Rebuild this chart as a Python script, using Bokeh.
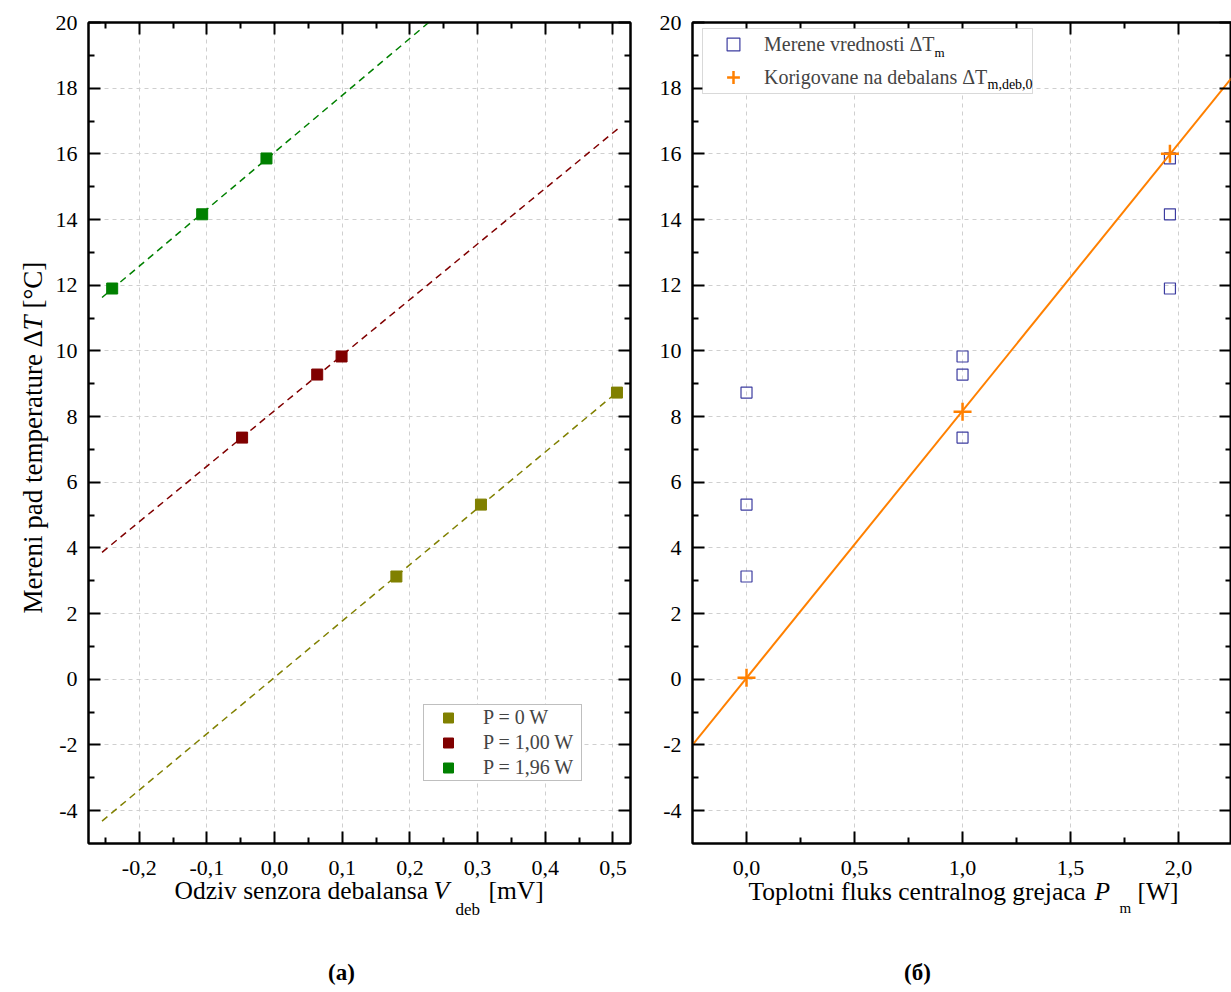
import math
import numpy as np
from bokeh.plotting import figure
from bokeh.layouts import row, column
from bokeh.models import (Range1d, LinearAxis, FixedTicker, CustomJSTickFormatter,
                          Label, Legend, LegendItem, BoxAnnotation)
from bokeh.embed import file_html
from bokeh.resources import INLINE

# ---------------- data ----------------
# (a) measured temperature drop vs. imbalance sensor response
V_P0 = [0.180, 0.305, 0.506]
T_P0 = [3.13, 5.32, 8.73]
V_P1 = [-0.048, 0.063, 0.099]
T_P1 = [7.36, 9.28, 9.83]
V_P2 = [-0.240, -0.107, -0.012]
T_P2 = [11.90, 14.16, 15.86]
FIT_V = [-0.255, 0.510]
LEG_A = ["P = 0 W", "P = 1,00 W", "P = 1,96 W"]

# (б) heater power, measured and corrected values
P_M = [0.0, 1.00, 1.96]
T_CORR = [0.05, 8.15, 16.00]
FIT_P = [-0.25, 2.245]
LEG_B = ["Merene vrednosti \u0394T", "Korigovane na debalans \u0394T"]

X1 = (-0.275, 0.526)
X2 = (-0.25, 2.245)
Y = (-5.0, 20.0)

X1_TICKS = [-0.2, -0.1, 0.0, 0.1, 0.2, 0.3, 0.4, 0.5]
X1_MINOR = [-0.25, -0.15, -0.05, 0.05, 0.15, 0.25, 0.35, 0.45]
X2_TICKS = [0.0, 0.5, 1.0, 1.5, 2.0]
X2_MINOR = [0.25, 0.75, 1.25, 1.75]
Y_TICKS = list(range(-4, 21, 2))
Y_MINOR = list(range(-3, 20, 2))

SERIF = "Liberation Serif"
OLIVE, DRED, GREEN = "#808000", "#800000", "#008000"
ORANGE, BLUE = "#ff8000", "#3c3ca0"

# page geometry (pixels)
W_Y = 50          # strip for the rotated y title
H_TOP = 880       # height of the plot figures
OVL = 16          # text strips overlap the plot figures by this much
F_TOP, F_BOT = 22, 843
F1_L, F1_R = 88, 630
F2_L, F2_R = 692, 1231
BASE_SHIFT = 0.39  # em offset between requested and drawn baseline


def dx2(px):
    return X2[0] + (px - F2_L) / (F2_R - F2_L) * (X2[1] - X2[0])


def dy(py):
    return Y[1] - (py - F_TOP) / (F_BOT - F_TOP) * (Y[1] - Y[0])


comma_fmt = CustomJSTickFormatter(code="return tick.toFixed(1).replace('.', ',');")
int_fmt = CustomJSTickFormatter(code="return tick.toFixed(0);")
blank_fmt = CustomJSTickFormatter(code="return '';")


def tick_style(ax):
    ax.axis_line_width = 2
    ax.major_tick_line_width = 2
    ax.minor_tick_line_width = 2
    ax.major_tick_in = 12
    ax.major_tick_out = 0
    ax.minor_tick_in = 6
    ax.minor_tick_out = 0


def style(p, xt, xm):
    p.background_fill_color = "white"
    p.border_fill_color = "white"
    p.outline_line_color = "black"
    p.outline_line_width = 2
    p.xaxis.ticker = FixedTicker(ticks=xt, minor_ticks=xm)
    p.yaxis.ticker = FixedTicker(ticks=Y_TICKS, minor_ticks=Y_MINOR)
    p.xaxis.formatter = comma_fmt
    p.yaxis.formatter = int_fmt
    for ax in p.xaxis + p.yaxis:
        tick_style(ax)
        ax.major_label_text_font = SERIF
        ax.major_label_text_font_size = "22px"
        ax.major_label_text_color = "black"
    p.xaxis.major_label_standoff = 17
    p.yaxis.major_label_standoff = 11
    for g in (p.xgrid, p.ygrid):
        g.grid_line_color = "#cfcfcf"
        g.grid_line_dash = "4 4"
        g.grid_line_width = 1
    p.xgrid.ticker = FixedTicker(ticks=xt)
    p.ygrid.ticker = FixedTicker(ticks=Y_TICKS)
    top = LinearAxis(ticker=FixedTicker(ticks=xt, minor_ticks=xm), formatter=blank_fmt)
    right = LinearAxis(ticker=FixedTicker(ticks=Y_TICKS, minor_ticks=Y_MINOR), formatter=blank_fmt)
    for ax in (top, right):
        tick_style(ax)
        ax.major_label_text_font_size = "0px"
        ax.major_label_standoff = 0
    p.add_layout(top, "above")
    p.add_layout(right, "right")


def lab(p, x, y, text, size, style_="normal", angle=0.0, align="left", level="annotation"):
    p.add_layout(Label(x=x, y=y, text=text, text_font=SERIF, text_font_size="%gpx" % size,
                       text_font_style=style_, text_baseline="alphabetic",
                       text_align=align, angle=angle, text_color="black", level=level))


def text_fig(x0, y0, w, h, margin=None):
    """Transparent blank figure whose data units are page pixels (y grows downward)."""
    t = figure(width=w, height=h, x_range=Range1d(x0, x0 + w), y_range=Range1d(y0 + h, y0),
               x_axis_type=None, y_axis_type=None, output_backend="svg",
               toolbar_location=None, min_border=0, frame_align=False)
    t.outline_line_color = None
    t.background_fill_alpha = 0
    t.border_fill_alpha = 0
    if margin is not None:
        t.margin = margin
    return t


def hlab(t, x, base, text, size, style_="normal", align="left"):
    lab(t, x, base - BASE_SHIFT * size, text, size, style_, align=align)


def vlab(t, base, y, text, size, style_="normal"):
    lab(t, base - BASE_SHIFT * size, y, text, size, style_, angle=math.pi / 2)


# ---------------- panel (a) ----------------
p1 = figure(width=640 - W_Y, height=H_TOP, x_range=Range1d(*X1), y_range=Range1d(*Y),
            output_backend="svg", toolbar_location=None, frame_align=False,
            min_border_left=F1_L - W_Y, min_border_right=640 - F1_R,
            min_border_top=F_TOP, min_border_bottom=H_TOP - F_BOT)
style(p1, X1_TICKS, X1_MINOR)

rs = []
for vx, ty, col in ((V_P0, T_P0, OLIVE), (V_P1, T_P1, DRED), (V_P2, T_P2, GREEN)):
    k, b = np.polyfit(vx, ty, 1)
    p1.line(FIT_V, [k * v + b for v in FIT_V], line_color=col, line_width=1.5, line_dash="7 5")
for vx, ty, col in ((V_P0, T_P0, OLIVE), (V_P1, T_P1, DRED), (V_P2, T_P2, GREEN)):
    rs.append(p1.scatter(vx, ty, marker="square", size=11, fill_color=col, line_color=col))

leg1 = Legend(items=[LegendItem(label=t, renderers=[r]) for t, r in zip(LEG_A, rs)],
              location=(423 - F1_L, F_BOT - 781))
leg1.label_text_font = SERIF
leg1.label_text_font_size = "20px"
leg1.border_line_color = "#808080"
leg1.border_line_width = 1
leg1.background_fill_alpha = 1
leg1.padding = 0
leg1.spacing = 0
leg1.margin = 0
leg1.glyph_width = 48
leg1.glyph_height = 25
leg1.label_standoff = 11
leg1.label_height = 25
leg1.label_width = 98
p1.add_layout(leg1)

# ---------------- panel (б) ----------------
p2 = figure(width=591, height=H_TOP, x_range=Range1d(*X2), y_range=Range1d(*Y),
            output_backend="svg", toolbar_location=None, frame_align=False,
            min_border_left=F2_L - 640, min_border_right=0,
            min_border_top=F_TOP, min_border_bottom=H_TOP - F_BOT)
style(p2, X2_TICKS, X2_MINOR)

sq_x = [P_M[0]] * len(T_P0) + [P_M[1]] * len(T_P1) + [P_M[2]] * len(T_P2)
sq_y = T_P0 + T_P1 + T_P2
r_sq = p2.scatter(sq_x, sq_y, marker="square", size=11, fill_color=None,
                  line_color=BLUE, line_width=1.2)
k2, b2 = np.polyfit(P_M, T_CORR, 1)
p2.line(FIT_P, [k2 * v + b2 for v in FIT_P], line_color=ORANGE, line_width=2)
r_pl = p2.scatter(P_M, T_CORR, marker="cross", size=18, line_color=ORANGE, line_width=2.5)

# legend frame drawn separately so that the subscripts can sit on top of it
p2.add_layout(BoxAnnotation(left=dx2(702), right=dx2(1032), top=dy(28), bottom=dy(93),
                            fill_color="white", fill_alpha=1, line_color="#808080",
                            line_width=1, level="annotation"))
leg2 = Legend(items=[LegendItem(label=LEG_B[0], renderers=[r_sq]),
                     LegendItem(label=LEG_B[1], renderers=[r_pl])],
              location=(702 - F2_L, F_BOT - 93))
leg2.label_text_font = SERIF
leg2.label_text_font_size = "20px"
leg2.border_line_color = None
leg2.background_fill_alpha = 0
leg2.padding = 0
leg2.spacing = 1
leg2.margin = 0
leg2.glyph_width = 62
leg2.glyph_height = 32
leg2.label_standoff = 0
leg2.label_height = 32
leg2.label_width = 268
p2.add_layout(leg2)

lab(p2, dx2(934), dy(57 - BASE_SHIFT * 13), "m", 13, level="overlay")
lab(p2, dx2(987), dy(89 - BASE_SHIFT * 14), "m,deb,0", 14, level="overlay")

# ---------------- text strips ----------------
tY = text_fig(0, 0, W_Y, 992)
vlab(tY, 43, 613, "Mereni pad temperature \u0394", 27)
vlab(tY, 43, 330, "T", 27, "italic")
vlab(tY, 43, 308, "[\u00b0C]", 27)

H_TXT = 992 - H_TOP + OVL
t1 = text_fig(W_Y, H_TOP - OVL, 640 - W_Y, H_TXT, margin=(-OVL, 0, 0, 0))
hlab(t1, 174, 900, "Odziv senzora debalansa", 25.5)
hlab(t1, 433, 900, "V", 25.5, "italic")
hlab(t1, 455, 916, "deb", 17)
hlab(t1, 488, 900, "[mV]", 25.5)
hlab(t1, 341, 981, "(a)", 23, "bold", align="center")

t2 = text_fig(640, H_TOP - OVL, 591, H_TXT, margin=(-OVL, 0, 0, 0))
hlab(t2, 748, 901, "Toplotni fluks centralnog grejaca", 25.5)
hlab(t2, 1094, 901, "P", 25.5, "italic")
hlab(t2, 1119, 913, "m", 15)
hlab(t2, 1137, 901, "[W]", 25.5)
hlab(t2, 917, 981, "(\u0431)", 23, "bold", align="center")

layout = row(tY, column(p1, t1, spacing=0), column(p2, t2, spacing=0), spacing=0)
open("out.html", "w").write(file_html(layout, INLINE))
